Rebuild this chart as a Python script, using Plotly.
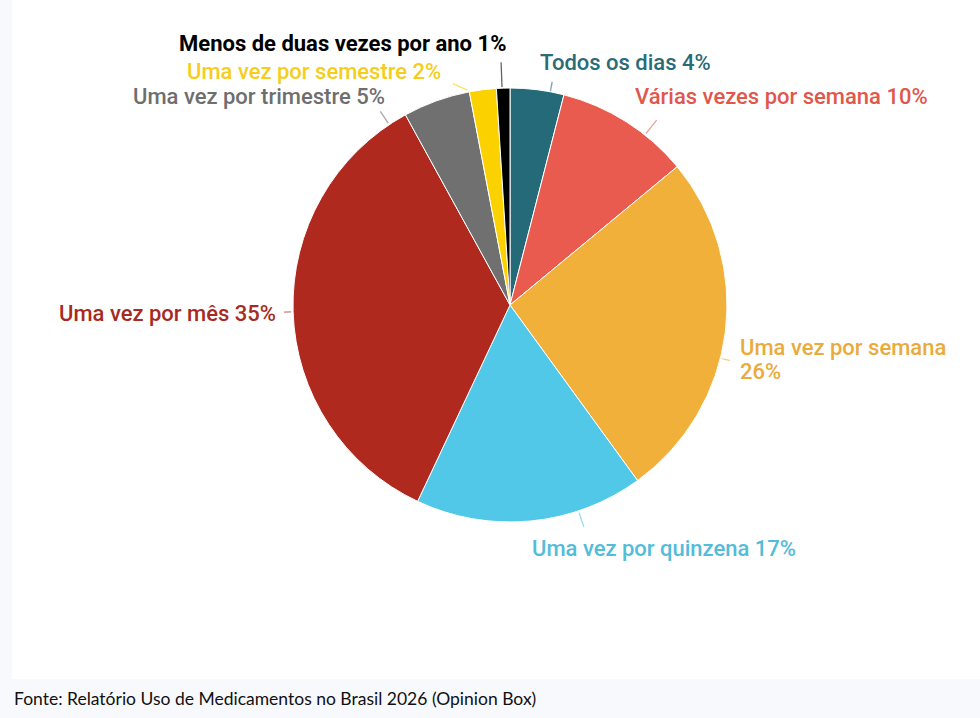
import numpy as np
import plotly.graph_objects as go

# dados do gráfico
categorias = ["Todos os dias", "Várias vezes por semana", "Uma vez por semana",
              "Uma vez por quinzena", "Uma vez por mês", "Uma vez por trimestre",
              "Uma vez por semestre", "Menos de duas vezes por ano"]
percentuais = [4, 10, 26, 17, 35, 5, 2, 1]
fonte = "Fonte: Relatório Uso de Medicamentos no Brasil 2026 (Opinion Box)"

# estilos
cores = ["#256a78", "#e85b4e", "#f0b03a", "#52c8e8", "#b0291f", "#707070", "#fcd100", "#000000"]
cores_texto = ["#2a6b78", "#e0574c", "#eaab3c", "#52bcd9", "#a72a22", "#6e6e6e", "#f5cd1a", "#000000"]

W, H = 980, 718
cx, cy, r = 510, 305, 217

def paper(x, y):
    return x / W, 1 - y / H

# posição dos rótulos em pixels: (x, y, xanchor); o segundo y quebra a linha
rotulos_pos = {
    "Todos os dias": (538, 62, "left"),
    "Várias vezes por semana": (633, 97, "left"),
    "Uma vez por semana": (738, (347, 372), "left"),
    "Uma vez por quinzena": (530, 548, "left"),
    "Uma vez por mês": (278, 313, "right"),
    "Uma vez por trimestre": (387, 97, "right"),
    "Uma vez por semestre": (443, 71, "right"),
    "Menos de duas vezes por ano": (508, 44, "right"),
}
# linhas-guia: (desvio do ângulo em graus, afastamento, comprimento, inclinação)
guias = {
    "Todos os dias": (3.5, 1, 9, 0),
    "Várias vezes por semana": (6, 2, 17, 0),
    "Uma vez por semana": (7, 2, 8, 0),
    "Uma vez por quinzena": (-13, 2, 15, 0),
    "Uma vez por mês": (0, 2, 7, 0),
    "Uma vez por trimestre": (-14, 2, 14, 0),
    "Uma vez por semestre": (-4, 2, 16, -55),
    "Menos de duas vezes por ano": (-0.3, 1, 25, 0),
}

fig = go.Figure()

x0, y0 = paper(cx - r, cy + r)
x1, y1 = paper(cx + r, cy - r)
fig.add_trace(go.Pie(
    labels=categorias,
    values=percentuais,
    sort=False,
    direction="clockwise",
    rotation=0,
    marker=dict(colors=cores, line=dict(color="white", width=1)),
    textinfo="none",
    hovertemplate="%{label}: %{value}%<extra></extra>",
    domain=dict(x=[x0, x1], y=[y0, y1]),
    showlegend=False,
))

shapes = [dict(type="rect", xref="paper", yref="paper",
               x0=12 / W, x1=1, y0=1 - 679 / H, y1=1,
               fillcolor="white", line=dict(width=0), layer="below")]
annotations = []

acum = np.cumsum(percentuais)
for i, cat in enumerate(categorias):
    meio = (acum[i] - percentuais[i] / 2) * 3.6
    desvio, gap, comp, incl = guias[cat]
    a = np.radians(meio + desvio)
    b = np.radians(meio + desvio + incl)
    ra = r + gap
    sx, sy = cx + ra * np.sin(a), cy - ra * np.cos(a)
    ex, ey = sx + comp * np.sin(b), sy - comp * np.cos(b)
    ax, ay = paper(sx, sy)
    bx, by = paper(ex, ey)
    shapes.append(dict(type="line", xref="paper", yref="paper",
                       x0=ax, y0=ay, x1=bx, y1=by,
                       line=dict(color=cores[i], width=1.3), opacity=0.6))

    tx, ty, xa = rotulos_pos[cat]
    fonte_rot = dict(family="Roboto", size=22, color=cores_texto[i],
                     weight=700 if i == 7 else 500)
    if isinstance(ty, tuple):
        linhas = [(ty[0], cat), (ty[1], f"{percentuais[i]}%")]
    else:
        linhas = [(ty, f"{cat} {percentuais[i]}%")]
    for yy, texto in linhas:
        px_, py_ = paper(tx, yy)
        annotations.append(dict(
            x=px_, y=py_, xref="paper", yref="paper", xanchor=xa, yanchor="middle",
            text=texto, showarrow=False, font=fonte_rot,
        ))

fx, fy = paper(12, 698)
annotations.append(dict(
    x=fx, y=fy, xref="paper", yref="paper", xanchor="left", yanchor="middle",
    text=fonte, showarrow=False,
    font=dict(family="Lato", size=17.5, color="#111111"),
))

fig.update_layout(
    width=W, height=H,
    margin=dict(l=0, r=0, t=0, b=0),
    paper_bgcolor="#f8f9fd",
    plot_bgcolor="white",
    shapes=shapes,
    annotations=annotations,
)

fig.write_html("out.html", config={"displayModeBar": False},
               post_script="document.body.style.margin='0';")
